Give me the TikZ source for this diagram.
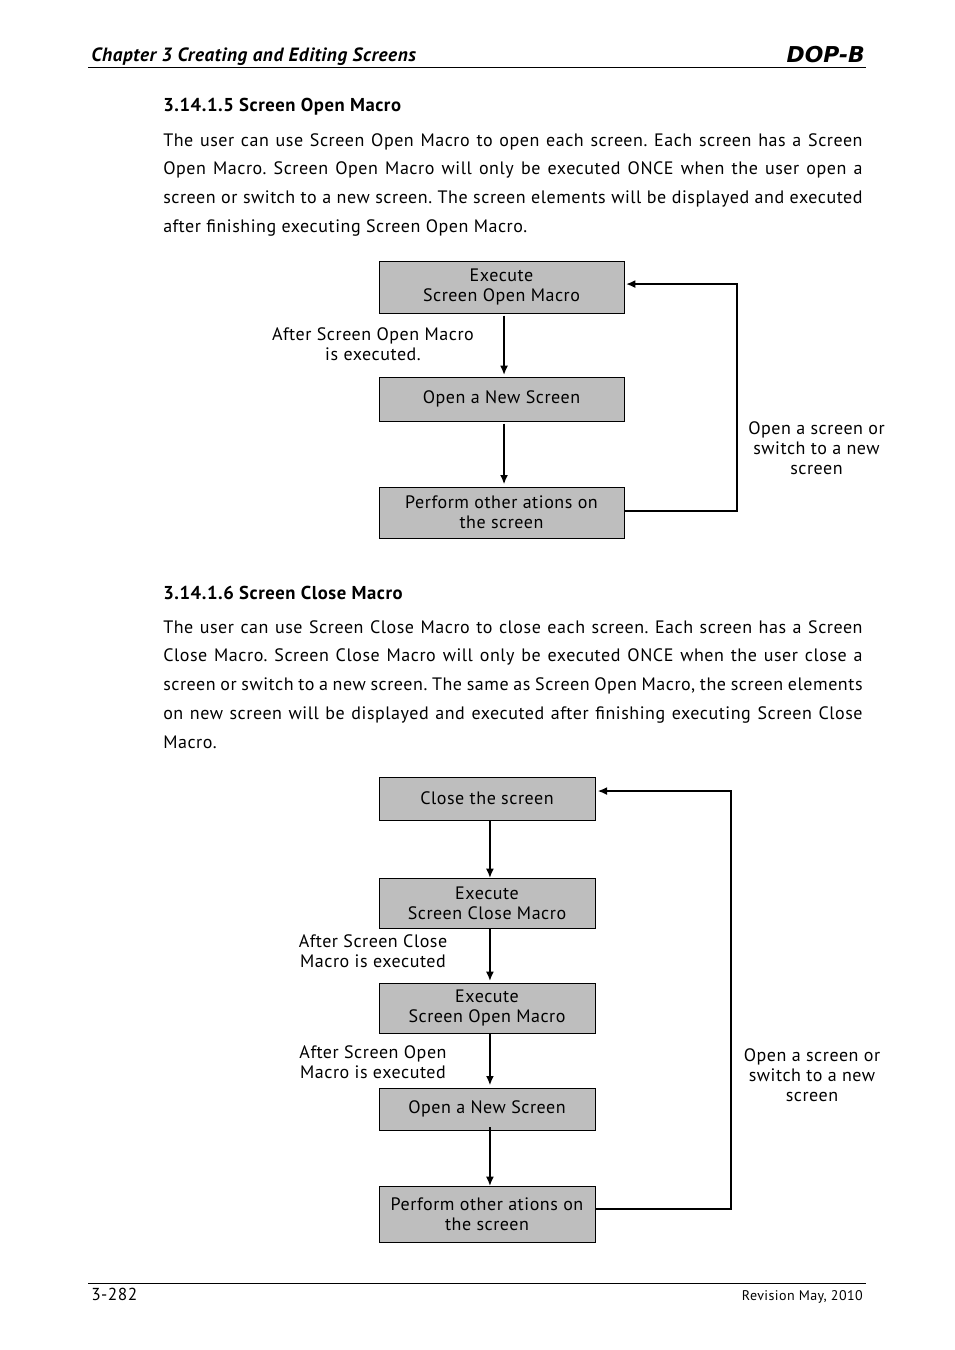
\documentclass[tikz,border=0pt]{standalone}
\usepackage{fontspec}
\setmainfont{PT Sans}[LetterSpace=3.0]
\newfontfamily\logofont{DejaVu Sans}
\usepackage{tikz}
\usetikzlibrary{positioning,arrows.meta}
\definecolor{boxgray}{gray}{0.745}
\frenchspacing
\tikzset{
	bodytext/.style={anchor=north west,inner sep=0pt,text width=524.5pt,align=justify,font=\fontsize{13.5}{21.56}\selectfont\frenchspacing},
	headtext/.style={anchor=west,inner sep=0pt,font=\fontsize{14}{15}\selectfont\bfseries},
	flowbox/.style={draw=black,line width=0.7pt,fill=boxgray,align=center,inner sep=0pt,outer sep=0pt,font=\fontsize{13.5}{15}\selectfont},
	flownote/.style={align=center,inner sep=0pt,font=\fontsize{13.5}{15}\selectfont},
	flowarrow/.style={draw=black,line width=1.3pt,-{Latex[length=7pt,width=6pt]}}
}
\begin{document}
\begin{tikzpicture}[x=0.75pt,y=-0.75pt]
	\useasboundingbox (0,0) rectangle (954,1350);

	% page head and foot
	\node[headtext,font=\fontsize{14.4}{15}\selectfont\bfseries\itshape] (chapter) at (91,57) {Chapter 3 Creating and Editing Screens};
	\node[anchor=east,inner sep=0pt,font=\fontsize{16.4}{15}\logofont\bfseries\itshape] (logo) at (865,55) {DOP-B};
	\coordinate (headl) at (88,67);
	\coordinate (headr) at (866,67);
	\draw[line width=0.6pt] (headl) -- (headr);
	\coordinate (footl) at (88,1283);
	\coordinate (footr) at (866,1283);
	\draw[line width=0.6pt] (footl) -- (footr);
	\node[anchor=west,inner sep=0pt,font=\fontsize{13}{15}\selectfont] (pageno) at (91,1294) {3-282};
	\node[anchor=east,inner sep=0pt,font=\fontsize{10.5}{12}\selectfont] (revision) at (863,1296.5) {Revision May, 2010};

	% first section
	\node[headtext] (headopen) at (163,106.5) {3.14.1.5 Screen Open Macro};
	\node[bodytext] (paraopen) at (163,133) {The user can use Screen Open Macro to open each screen. Each screen has a Screen\linebreak
		Open Macro. Screen Open Macro will only be executed ONCE when the user open a\linebreak
		screen or switch to a new screen. The screen elements will be displayed and executed\linebreak
		after finishing executing Screen Open Macro.};

	\node[flowbox,minimum width=183.75pt,minimum height=39pt] (execopen) at (501.5,287) {Execute\\Screen Open Macro};
	\node[flowbox,minimum width=183.75pt,minimum height=33pt,below=48pt of execopen] (newscreen) {Open a New Screen};
	\node[flowbox,minimum width=183.75pt,minimum height=38.25pt,below=49.5pt of newscreen] (perform) {Perform other ations on\\the screen};
	\node[flownote] (noteopen) at (373,344) {After Screen Open Macro\\is executed.};
	\node[flownote] (noteback) at (816.5,448) {Open a screen or\\switch to a new\\screen};
	\coordinate (railopen) at (737,284);

	\draw[flowarrow,shorten <=2pt,shorten >=1.5pt] ([xshift=1.9pt]execopen.south) -- ([xshift=1.9pt]newscreen.north);
	\draw[flowarrow,shorten <=2pt,shorten >=2pt] ([xshift=1.9pt]newscreen.south) -- ([xshift=1.9pt]perform.north);
	\draw[flowarrow,shorten >=1.5pt] ([yshift=1.1pt]perform.east) -| (railopen) -- ([yshift=2.2pt]execopen.east);

	% second section
	\node[headtext] (headclose) at (163,592.5) {3.14.1.6 Screen Close Macro};
	\node[bodytext] (paraclose) at (163,620) {The user can use Screen Close Macro to close each screen. Each screen has a Screen\linebreak
		Close Macro. Screen Close Macro will only be executed ONCE when the user close a\linebreak
		screen or switch to a new screen. The same as Screen Open Macro, the screen elements\linebreak
		on new screen will be displayed and executed after finishing executing Screen Close\linebreak
		Macro.};

	\node[flowbox,minimum width=162pt,minimum height=32.25pt] (closescreen) at (487,798.5) {Close the screen};
	\node[flowbox,minimum width=162pt,minimum height=37.5pt,below=43.5pt of closescreen] (execclose) {Execute\\Screen Close Macro};
	\node[flowbox,minimum width=162pt,minimum height=37.5pt,below=41.25pt of execclose] (execnext) {Execute\\Screen Open Macro};
	\node[flowbox,minimum width=162pt,minimum height=31.5pt,below=41.25pt of execnext] (newnext) {Open a New Screen};
	\node[flowbox,minimum width=162pt,minimum height=42pt,below=42pt of newnext] (performnext) {Perform other ations on\\the screen};
	\node[flownote] (noteclose) at (373,951) {After Screen Close\\Macro is executed};
	\node[flownote] (notenext) at (373,1062) {After Screen Open\\Macro is executed};
	\node[flownote] (notebacktwo) at (812,1075.5) {Open a screen or\\switch to a new\\screen};
	\coordinate (railclose) at (731,791);

	\draw[flowarrow,shorten <=1pt] ([xshift=2.2pt]closescreen.south) -- ([xshift=2.2pt]execclose.north);
	\draw[flowarrow,shorten <=1pt,shorten >=1.5pt] ([xshift=2.2pt]execclose.south) -- ([xshift=2.2pt]execnext.north);
	\draw[flowarrow,shorten <=1pt,shorten >=2pt] ([xshift=2.2pt]execnext.south) -- ([xshift=2.2pt]newnext.north);
	\draw[flowarrow,shorten <=-2pt] ([xshift=2.2pt]newnext.south) -- ([xshift=2.2pt]performnext.north);
	\draw[flowarrow,shorten >=2pt] ([yshift=3.75pt]performnext.east) -| (railclose) -- ([yshift=5.6pt]closescreen.east);
\end{tikzpicture}
\end{document}
